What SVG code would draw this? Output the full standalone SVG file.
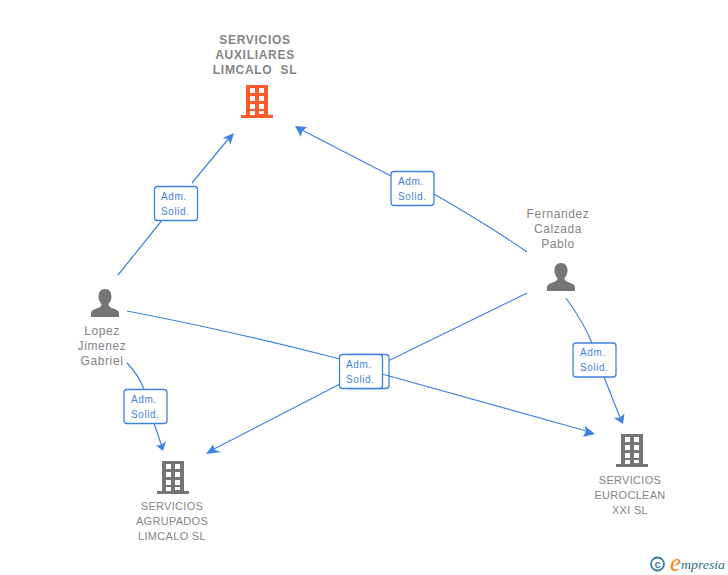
<svg xmlns="http://www.w3.org/2000/svg" width="728" height="575" viewBox="0 0 728 575">
<style>
.c{fill:none;stroke:#3f83e0;stroke-width:1.2}
.a{fill:#3f83e0}
.b{fill:#fff;stroke:#3f83e0;stroke-width:1.3}
.bt{font:10px "Liberation Sans",Arial,sans-serif;fill:#3f83e0;letter-spacing:.6px}
.t{font:bold 12px "Liberation Sans",Arial,sans-serif;fill:#858585;text-anchor:middle;letter-spacing:.7px}
.n{font:12px "Liberation Sans",Arial,sans-serif;fill:#858585;text-anchor:middle;letter-spacing:.6px}
.s{font:11px "Liberation Sans",Arial,sans-serif;fill:#858585;text-anchor:middle;letter-spacing:.3px}
</style>
<defs>
<g id="bld">
<path fill-rule="evenodd" d="M4 0H26V30H31V33H-1V30H4ZM8 3V8H13V3ZM17 3V8H22V3ZM8 11V16H13V11ZM17 11V16H22V11ZM8 19V24H13V19ZM17 19V24H22V19ZM8 26V30H13V26ZM17 26V29H22V26Z"/>
</g>
<path id="per" d="M14 0C18.500 0 20.500 3.500 20.500 7.500C20.500 11 19 13.500 17.500 15C17.500 17 18.500 18 21 19C25 20.500 28 21.500 28 24.500V28H0V24.500C0 21.500 3 20.500 7 19C9.500 18 10.500 17 10.500 15C9 13.500 7.500 11 7.500 7.500C7.500 3.500 9.500 0 14 0Z" fill="#757575"/>
</defs>
<g id="connectors">
<path class="c" d="M118 275L163 219M192 183L230 137"/>
<path class="a" d="M234 133L230.500 144.500L228 139L222.500 138Z"/>
<path class="c" d="M527 252C500 233 465 212 434 194M391 176L300 129"/>
<path class="a" d="M295 126L307 127L302 131.500L301 137Z"/>
<path class="c" d="M127 311C200 325 270 341 340 359"/>
<path class="a" d="M595 434L583 437L586 431L584.500 425.500Z"/>
<path class="c" d="M527 293L388 361M340 384L212 450"/>
<path class="a" d="M206 454L213 444.500L215 450L221 452Z"/>
<path class="c" d="M127 363C134 370 140 379 144 389M154 423L162 447"/>
<path class="a" d="M163 451L156 445.500L161.500 445L166 441Z"/>
<path class="c" d="M566 298C576 312 586 328 592 343M604 377L621 420"/>
<path class="a" d="M623 424L614 418L620 417.500L624.500 413.500Z"/>
</g>
<g id="n1">
<text class="t" x="255" y="44">SERVICIOS</text>
<text class="t" x="255" y="59">AUXILIARES</text>
<text class="t" x="255" y="74" xml:space="preserve">LIMCALO  SL</text>
<use href="#bld" x="242" y="85" fill="#ff5a2c"/>
</g>
<g id="n2">
<use href="#per" x="91" y="289"/>
<text class="n" x="102" y="335">Lopez</text>
<text class="n" x="102" y="350">Jimenez</text>
<text class="n" x="102" y="365">Gabriel</text>
</g>
<g id="n3">
<text class="n" x="558" y="218">Fernandez</text>
<text class="n" x="558" y="233">Calzada</text>
<text class="n" x="558" y="248">Pablo</text>
<use href="#per" x="547" y="263"/>
</g>
<g id="n4">
<use href="#bld" x="158" y="461" fill="#757575"/>
<text class="s" x="172" y="510">SERVICIOS</text>
<text class="s" x="172" y="525">AGRUPADOS</text>
<text class="s" x="172" y="540">LIMCALO SL</text>
</g>
<g id="n5">
<use href="#bld" x="617" y="434" fill="#757575"/>
<text class="s" x="630" y="484">SERVICIOS</text>
<text class="s" x="630" y="499">EUROCLEAN</text>
<text class="s" x="630" y="514">XXI SL</text>
</g>
<g id="labels">
<g id="l1"><rect class="b" x="154.500" y="186.500" width="43" height="34" rx="3"/><text class="bt" x="161" y="200">Adm.</text><text class="bt" x="161" y="215">Solid.</text></g>
<g id="l2"><rect class="b" x="391" y="171.500" width="43" height="34" rx="3"/><text class="bt" x="398" y="185">Adm.</text><text class="bt" x="398" y="200">Solid.</text></g>
<g id="l3"><rect class="b" x="346" y="354.500" width="43" height="34" rx="3"/><path class="c" d="M382 374L590 432"/><rect class="b" x="339.500" y="354.500" width="43" height="34" rx="3"/><text class="bt" x="346" y="368">Adm.</text><text class="bt" x="346" y="383">Solid.</text></g>
<g id="l4"><rect class="b" x="124" y="389.500" width="43" height="34" rx="3"/><text class="bt" x="131" y="403">Adm.</text><text class="bt" x="131" y="418">Solid.</text></g>
<g id="l5"><rect class="b" x="573" y="343" width="43" height="34" rx="3"/><text class="bt" x="580" y="356">Adm.</text><text class="bt" x="580" y="371">Solid.</text></g>
</g>
<g id="logo">
<circle cx="657.500" cy="564" r="6.500" fill="none" stroke="#3d7f99" stroke-width="1.800"/>
<text x="657.500" y="568" font-family="Liberation Sans,sans-serif" font-size="11" font-weight="bold" fill="#3d7f99" text-anchor="middle">c</text>
<text x="670" y="571" font-family="Liberation Serif,serif" font-style="italic" font-size="25" fill="#f08a1d">e</text>
<text x="681" y="569" font-family="Liberation Serif,serif" font-style="italic" font-size="13" fill="#2d6f86" textLength="44" lengthAdjust="spacingAndGlyphs">mpresia</text>
</g>
</svg>
